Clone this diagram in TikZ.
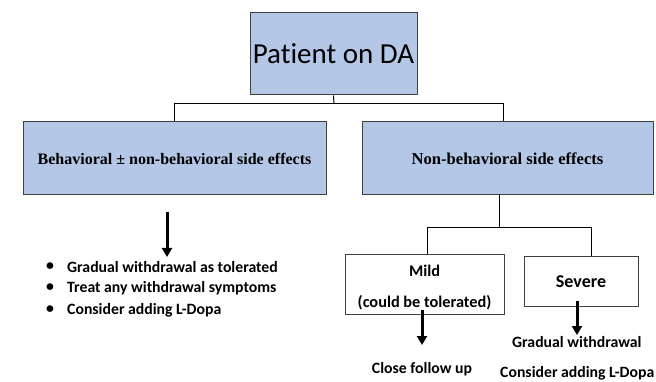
\documentclass[tikz,border=0pt]{standalone}
\usepackage{fontspec}
\setmainfont{Carlito}[Ligatures=NoCommon]
\newfontfamily\timesf{Liberation Serif}
\usetikzlibrary{arrows.meta,calc}
\definecolor{boxblue}{HTML}{B4C7E7}
\definecolor{edgegray}{HTML}{404040}
\tikzset{
  bluebox/.style={draw=edgegray,line width=1pt,fill=boxblue,inner sep=0pt,align=center},
  whitebox/.style={draw=edgegray,line width=1pt,fill=white,inner sep=0pt,align=center},
  conn/.style={draw=black,line width=1pt},
  bigarrow/.style={draw=black,line width=3pt,-{Triangle[width=10pt,length=9pt]}},
  lowtext/.style={font=\fontsize{15.75}{18}\selectfont\bfseries,inner sep=0pt}
}
\begin{document}
\begin{tikzpicture}[x=1pt,y=-1pt]
\useasboundingbox (0,0) rectangle (656,382);
\node[bluebox,minimum width=167pt,minimum height=82pt,font=\fontsize{29}{32}\selectfont] (top) at (333.5,54) {Patient on DA};
\node[bluebox,minimum width=303pt,minimum height=73pt,font=\fontsize{16}{18}\selectfont\timesf\bfseries] (L) at (174.5,158.5) {Behavioral ± non-behavioral side effects};
\node[bluebox,minimum width=291pt,minimum height=73pt,font=\fontsize{16.6}{18}\selectfont\timesf\bfseries] (R) at (507.5,158.5) {Non-behavioral side effects};
\node[whitebox,minimum width=159pt,minimum height=60pt] (mild) at (424.5,284.5) {};
\node[font=\fontsize{16.3}{31}\selectfont\bfseries,align=center,inner sep=0pt] (mildtxt) at (424.5,287.5) {Mild\\(could be tolerated)};
\node[whitebox,minimum width=114pt,minimum height=49pt,font=\fontsize{18}{21}\selectfont\bfseries] (sev) at (581,281.5) {Severe};
% upper tree
\coordinate (j1) at (334,104);
\draw[conn] (top.south) -- (j1);
\draw[conn] (L.north) |- ([xshift=-4.5pt]R.north |- j1) -- ([xshift=-4.5pt]R.north);
% lower tree
\coordinate (j2) at (499,228);
\draw[conn] ([xshift=-8.5pt]R.south) -- (j2);
\draw[conn] ([xshift=2.5pt]mild.north) |- ([xshift=10pt]sev.north |- j2) -- ([xshift=10pt]sev.north);
% arrows
\coordinate (a1s) at (167,212); \coordinate (a1e) at (167,257);
\draw[bigarrow] (a1s) -- (a1e);
\coordinate (a2e) at (422,345);
\draw[bigarrow] ([xshift=-2.5pt,yshift=5pt]mild.south) -- (a2e);
\coordinate (a3e) at (577,335);
\draw[bigarrow] ([xshift=-4pt,yshift=6pt]sev.south) -- (a3e);
% bullet list
\node[lowtext] (d1) at (50,267) {\textbullet};
\node[lowtext,anchor=west] (t1) at (67,267) {Gradual withdrawal as tolerated};
\node[lowtext] (d2) at (50,288) {\textbullet};
\node[lowtext,anchor=west] (t2) at (67,288) {Treat any withdrawal symptoms};
\node[lowtext] (d3) at (50,310) {\textbullet};
\node[lowtext,anchor=west] (t3) at (67,310) {Consider adding L-Dopa};
% lower texts
\node[lowtext] (cfu) at (422,369) {Close follow up};
\node[lowtext,anchor=west] (gw) at (512,342) {Gradual withdrawal};
\node[lowtext,anchor=west] (cal) at (500,373) {Consider adding L-Dopa};
\end{tikzpicture}
\end{document}
